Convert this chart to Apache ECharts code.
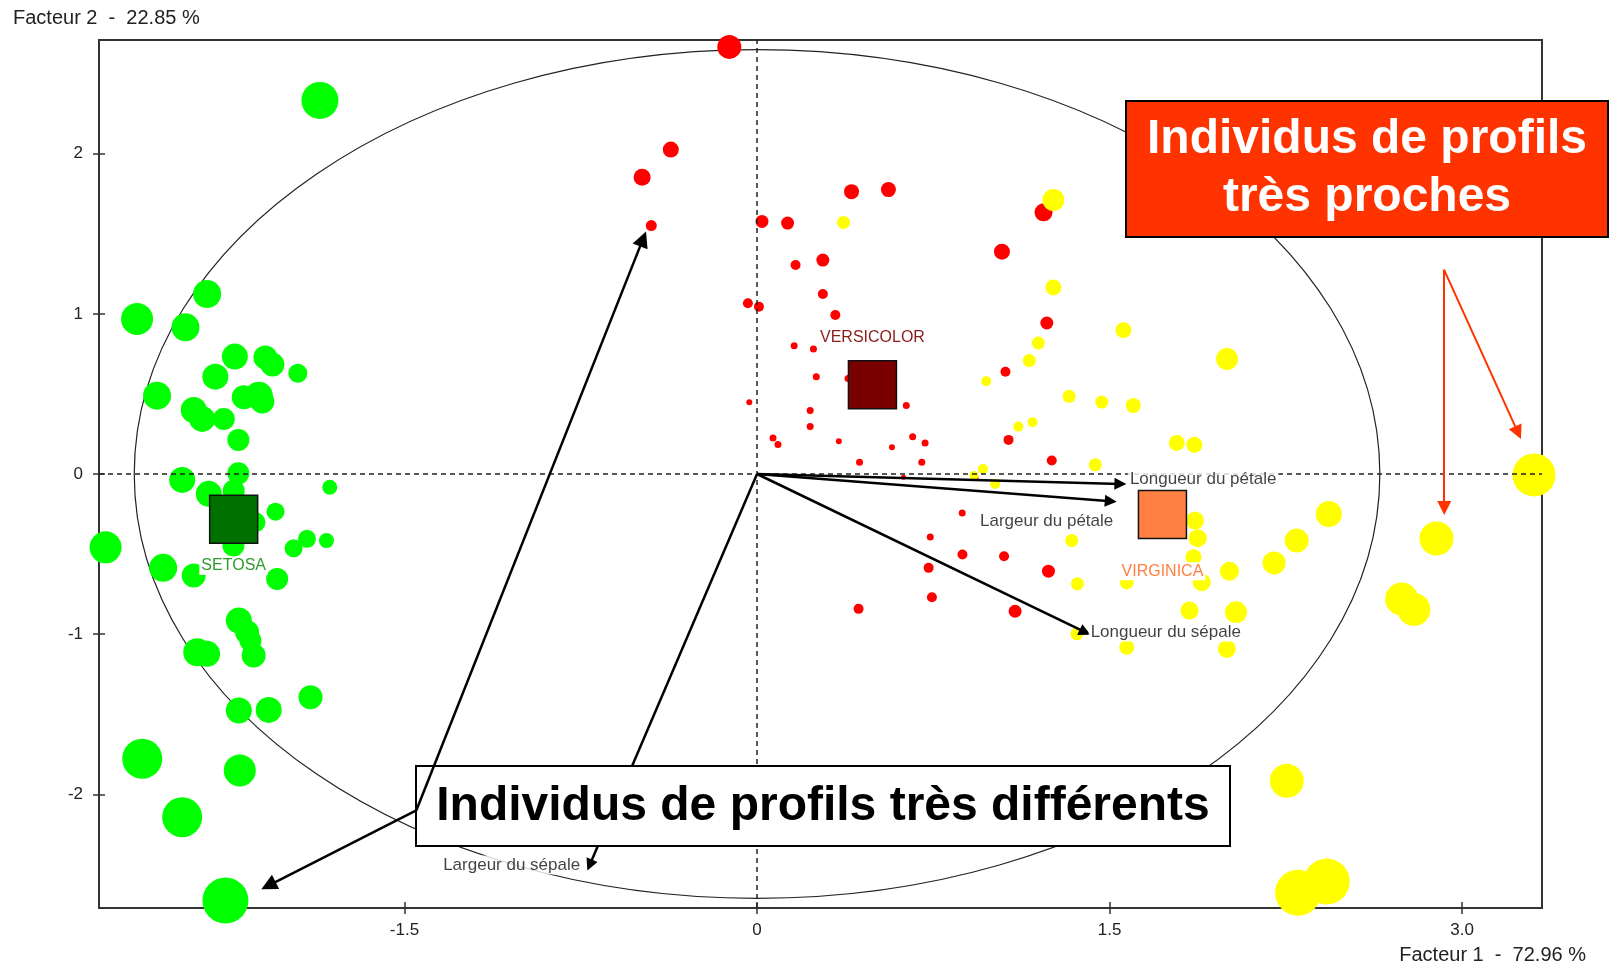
<!DOCTYPE html>
<html>
<head>
<meta charset="utf-8">
<script src="https://cdn.jsdelivr.net/npm/echarts@6/dist/echarts.min.js"></script>
<style>
  html, body { margin: 0; padding: 0; background: #fff; }
  #chart { width: 1610px; height: 967px; }
</style>
</head>
<body>
<div id="chart"></div>
<script>
// ticks
const xTicks = [-1.5, 0, 1.5, 3.0];
const xTickLabels = ['-1.5', '0', '1.5', '3.0'];
const yTicks = [-2, -1, 0, 1, 2];
const yTickLabels = ['-2', '-1', '0', '1', '2'];

// individus : [facteur 1, facteur 2, taille de la bulle]
const setosa = [
  [-1.860, 2.333, 37], [-2.340, 1.124, 28], [-2.638, 0.968, 32], [-2.432, 0.916, 28],
  [-2.222, 0.733, 26], [-2.092, 0.727, 24], [-2.062, 0.683, 24], [-1.954, 0.629, 19],
  [-2.305, 0.608, 26], [-2.553, 0.489, 28], [-2.184, 0.479, 24], [-2.120, 0.489, 28],
  [-2.105, 0.452, 24], [-2.397, 0.400, 26], [-2.361, 0.344, 26], [-2.269, 0.344, 22],
  [-2.207, 0.213, 22], [-2.446, -0.037, 26], [-2.207, 0.004, 22], [-2.333, -0.124, 26],
  [-2.227, -0.104, 22], [-2.134, -0.301, 20], [-2.049, -0.235, 18], [-1.818, -0.083, 15],
  [-1.915, -0.405, 18], [-1.972, -0.464, 18], [-1.832, -0.416, 15], [-2.772, -0.458, 32],
  [-2.527, -0.586, 28], [-2.397, -0.634, 24], [-2.228, -0.447, 22], [-2.042, -0.655, 22],
  [-2.205, -0.915, 26], [-2.170, -0.988, 24], [-2.156, -1.040, 22], [-2.142, -1.134, 24],
  [-2.382, -1.113, 28], [-2.340, -1.123, 26], [-1.900, -1.394, 24], [-2.205, -1.477, 26],
  [-2.078, -1.473, 26], [-2.616, -1.778, 40], [-2.201, -1.851, 32], [-2.446, -2.143, 40],
  [-2.262, -2.663, 46]
];
const versicolor = [
  [-0.118, 2.667, 24], [-0.367, 2.026, 16], [-0.489, 1.853, 17], [-0.450, 1.551, 11],
  [0.402, 1.763, 15], [0.559, 1.776, 15], [0.021, 1.577, 13], [0.130, 1.567, 13],
  [0.164, 1.305, 10], [0.280, 1.336, 13], [0.280, 1.124, 10], [-0.039, 1.066, 10],
  [0.008, 1.045, 10], [0.333, 0.993, 10], [0.158, 0.801, 7], [0.240, 0.781, 7],
  [0.252, 0.608, 7], [0.387, 0.597, 7], [-0.033, 0.448, 6], [0.226, 0.396, 7],
  [0.226, 0.296, 7], [0.635, 0.427, 7], [0.068, 0.225, 7], [0.089, 0.184, 7],
  [0.348, 0.204, 6], [0.574, 0.167, 6], [0.662, 0.233, 7], [0.715, 0.194, 7],
  [1.219, 1.634, 18], [1.042, 1.388, 16], [1.233, 0.943, 13], [1.057, 0.639, 10],
  [1.070, 0.213, 10], [0.436, 0.073, 7], [0.701, 0.073, 7], [0.623, -0.021, 5],
  [0.927, -0.022, 7], [0.873, -0.243, 7], [0.737, -0.393, 7], [0.874, -0.503, 10],
  [0.730, -0.586, 10], [0.744, -0.770, 10], [0.432, -0.842, 10], [1.051, -0.514, 10],
  [1.254, 0.084, 10], [1.240, -0.607, 13], [1.098, -0.857, 13]
];
const virginica = [
  [0.368, 1.571, 13], [1.261, 1.711, 22], [1.261, 1.165, 16], [1.197, 0.818, 13],
  [1.158, 0.708, 13], [0.975, 0.579, 10], [1.328, 0.485, 13], [1.467, 0.449, 13],
  [1.601, 0.427, 15], [1.112, 0.296, 10], [1.172, 0.323, 10], [0.961, 0.032, 10],
  [0.923, -0.010, 9], [1.013, -0.062, 10], [1.439, 0.057, 13], [1.559, 0.898, 16],
  [2.000, 0.718, 22], [1.786, 0.194, 16], [1.861, 0.182, 16], [1.339, -0.416, 13],
  [1.363, -0.686, 13], [1.361, -0.998, 13], [1.573, -0.676, 14], [1.573, -1.082, 15],
  [1.864, -0.291, 18], [1.875, -0.401, 18], [1.857, -0.520, 16], [1.892, -0.676, 18],
  [2.010, -0.607, 19], [2.200, -0.555, 23], [2.296, -0.416, 24], [2.433, -0.250, 26],
  [1.840, -0.853, 18], [2.038, -0.863, 22], [1.999, -1.092, 18], [2.891, -0.403, 34],
  [3.306, -0.006, 43], [2.743, -0.781, 33], [2.795, -0.846, 33], [2.254, -1.916, 34],
  [2.302, -2.615, 46], [2.424, -2.544, 46]
];

// centres de gravité des espèces
const groupNames = ['SETOSA', 'VERSICOLOR', 'VIRGINICA'];
const groupCenters = [[-2.227, -0.283], [0.491, 0.558], [1.725, -0.253]];

// variables (flèches)
const varNames = ['Longueur du pétale', 'Largeur du pétale', 'Longueur du sépale', 'Largeur du sépale'];
const varCoords = [[1.546, -0.062], [1.505, -0.170], [1.396, -0.988], [-0.712, -2.442]];

const circleRadius = 2.65;

// flèches des encadrés
const nearArrows = [[[2.923, 1.276], [2.924, -0.212]], [[2.923, 1.276], [3.238, 0.258]]];
const farArrows = [[[-1.450, -2.101], [-0.485, 1.468]], [[-1.450, -2.101], [-2.079, -2.570]]];

const font = '"Liberation Sans", Arial, sans-serif';
const groupColors = ['#007000', '#7a0000', '#ff8040'];
const groupTextColors = ['#2f9a2f', '#8b1c1c', '#ff8040'];
const groupLabelPlace = [
  { position: 'bottom', distance: 13 },
  { position: 'top', distance: 13 },
  { position: 'bottom', distance: 23 }
];
const varLabelPlace = [
  { position: 'right', distance: 7, offset: [0, -5] },
  { position: 'left', distance: 0, offset: [5, 20] },
  { position: 'right', distance: 3, offset: [0, 0] },
  { position: 'left', distance: 7, offset: [0, 0] }
];

const chart = echarts.init(document.getElementById('chart'));

const tickLine = { color: '#333', width: 1.5 };
const baseX = { type: 'value', min: -2.8, max: 3.34, splitLine: { show: false }, axisLine: { show: false, onZero: false } };
const baseY = { type: 'value', min: -2.71, max: 2.71, splitLine: { show: false }, axisLine: { show: false, onZero: false } };

const option = {
  animation: false,
  backgroundColor: '#fff',
  textStyle: { fontFamily: font },
  grid: { left: 99, right: 68, top: 40, bottom: 59, show: true, borderColor: '#333', borderWidth: 2, backgroundColor: '#fff' },
  xAxis: [
    Object.assign({}, baseX, {
      position: 'bottom',
      axisTick: { show: true, length: 6, customValues: xTicks, lineStyle: tickLine },
      axisLabel: {
        customValues: xTicks, fontSize: 17, color: '#222', margin: 14,
        formatter: v => xTickLabels[xTicks.indexOf(v)]
      }
    }),
    Object.assign({}, baseX, {
      position: 'bottom',
      axisTick: { show: true, inside: true, length: 6, customValues: xTicks, lineStyle: tickLine },
      axisLabel: { show: false }
    })
  ],
  yAxis: [
    Object.assign({}, baseY, {
      position: 'left',
      axisTick: { show: true, length: 6, customValues: yTicks, lineStyle: tickLine },
      axisLabel: {
        customValues: yTicks, fontSize: 17, color: '#222', margin: 16,
        formatter: v => yTickLabels[yTicks.indexOf(v)]
      }
    }),
    Object.assign({}, baseY, {
      position: 'left',
      axisTick: { show: true, inside: true, length: 6, customValues: yTicks, lineStyle: tickLine },
      axisLabel: { show: false }
    })
  ],
  series: [
    {
      // cercle des corrélations + axes pointillés
      type: 'custom',
      name: 'cercle',
      silent: true,
      z: 1,
      data: [[0, 0, circleRadius]],
      renderItem: (params, api) => {
        const c = api.coord([api.value(0), api.value(1)]);
        const s = api.size([api.value(2), api.value(2)]);
        return {
          type: 'ellipse',
          shape: { cx: c[0], cy: c[1], rx: s[0], ry: s[1] },
          style: { fill: 'none', stroke: '#222', lineWidth: 1.2 }
        };
      },
      markLine: {
        silent: true,
        symbol: 'none',
        label: { show: false },
        lineStyle: { type: [5, 4], color: '#222', width: 1.5 },
        data: [{ xAxis: 0 }, { yAxis: 0 }]
      }
    },
    {
      type: 'scatter', name: 'SETOSA', data: setosa, z: 3,
      symbolSize: v => v[2], itemStyle: { color: '#00ff00', opacity: 1 }
    },
    {
      type: 'scatter', name: 'VERSICOLOR', data: versicolor, z: 3,
      symbolSize: v => v[2], itemStyle: { color: '#ff0000', opacity: 1 }
    },
    {
      type: 'scatter', name: 'VIRGINICA', data: virginica, z: 3,
      symbolSize: v => v[2], itemStyle: { color: '#ffff00', opacity: 1 }
    },
    {
      type: 'scatter', name: 'centres', z: 5,
      symbol: 'rect', symbolSize: 48,
      itemStyle: { borderColor: '#111', borderWidth: 1.5, opacity: 1 },
      data: groupNames.map((n, i) => ({
        name: n,
        value: groupCenters[i],
        itemStyle: { color: groupColors[i] },
        label: Object.assign({
          show: true, formatter: '{b}', fontSize: 16, color: groupTextColors[i],
          backgroundColor: '#fff', padding: [1, 2]
        }, groupLabelPlace[i])
      }))
    },
    {
      type: 'lines', name: 'variables', coordinateSystem: 'cartesian2d', z: 6,
      symbol: ['none', 'triangle'], symbolSize: 12,
      lineStyle: { color: '#000', width: 2.5, opacity: 1, curveness: 0 },
      data: varCoords.map(c => ({ coords: [[0, 0], c] }))
    },
    {
      type: 'scatter', name: 'noms des variables', z: 7,
      symbol: 'circle', symbolSize: 1,
      itemStyle: { color: 'rgba(0,0,0,0)' },
      data: varNames.map((n, i) => ({
        name: n,
        value: varCoords[i],
        label: Object.assign({
          show: true, formatter: '{b}', fontSize: 17, color: '#111',
          backgroundColor: '#fff', padding: [1, 2]
        }, varLabelPlace[i])
      }))
    },
    {
      type: 'lines', name: 'proches', coordinateSystem: 'cartesian2d', z: 60,
      symbol: ['none', 'triangle'], symbolSize: 14,
      lineStyle: { color: '#ff3300', width: 2, opacity: 1 },
      data: nearArrows.map(a => ({ coords: a }))
    },
    {
      type: 'lines', name: 'différents', coordinateSystem: 'cartesian2d', z: 60,
      symbol: ['none', 'triangle'], symbolSize: 16,
      lineStyle: { color: '#000', width: 2.5, opacity: 1 },
      data: farArrows.map(a => ({ coords: a }))
    }
  ],
  graphic: [
    {
      type: 'text', x: 13, y: 18, z: 10,
      style: { text: 'Facteur 2  -  22.85 %', fontSize: 20, fontFamily: font, fill: '#222', align: 'left', verticalAlign: 'middle' }
    },
    {
      type: 'text', x: 1586, y: 955, z: 10,
      style: { text: 'Facteur 1  -  72.96 %', fontSize: 20, fontFamily: font, fill: '#222', align: 'right', verticalAlign: 'middle' }
    },
    {
      type: 'rect', z: 50,
      shape: { x: 1126, y: 101, width: 482, height: 136 },
      style: { fill: '#ff3300', stroke: '#000', lineWidth: 2 }
    },
    {
      type: 'text', x: 1367, y: 169, z: 51,
      style: {
        text: 'Individus de profils\ntrès proches', fontSize: 48, fontWeight: 'bold', fontFamily: font,
        fill: '#fff', align: 'center', verticalAlign: 'middle', lineHeight: 58
      }
    },
    {
      type: 'rect', z: 50,
      shape: { x: 416, y: 766, width: 814, height: 80 },
      style: { fill: '#fff', stroke: '#000', lineWidth: 2 }
    },
    {
      type: 'text', x: 823, y: 807, z: 51,
      style: {
        text: 'Individus de profils très différents', fontSize: 48, fontWeight: 'bold', fontFamily: font,
        fill: '#000', align: 'center', verticalAlign: 'middle'
      }
    }
  ]
};

chart.setOption(option);
</script>
</body>
</html>
